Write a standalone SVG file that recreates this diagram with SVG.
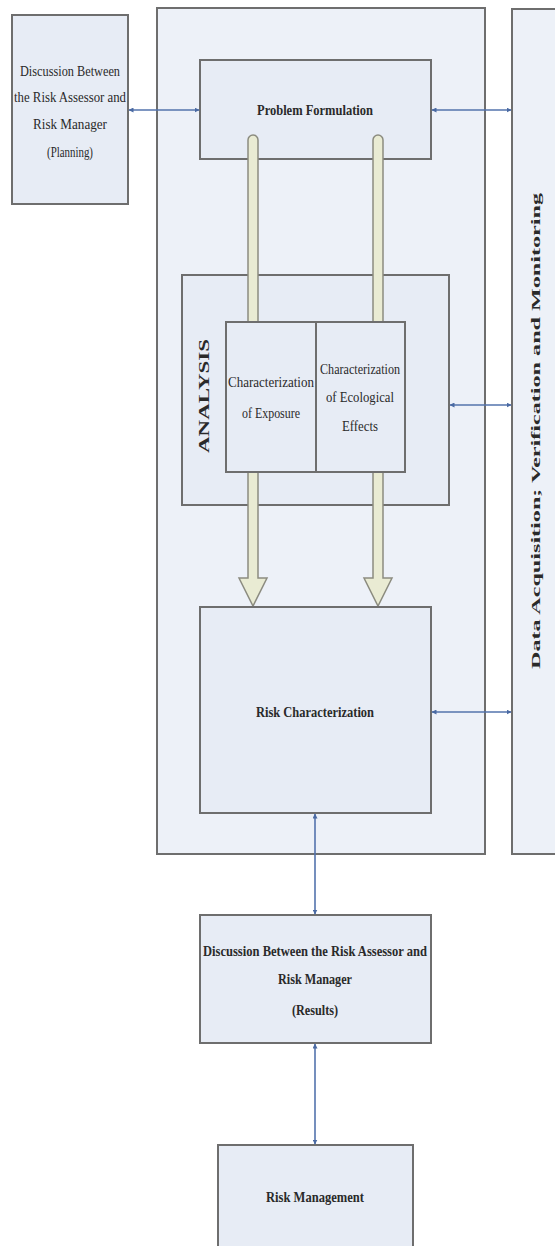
<svg xmlns="http://www.w3.org/2000/svg" width="555" height="1246" viewBox="0 0 555 1246">
<style>
.box{fill:#e7ecf5;stroke:#6e6e6e;stroke-width:2}
.cont{fill:#edf1f8;stroke:#6e6e6e;stroke-width:2}
.t{font-family:"Liberation Serif","Times New Roman",serif;font-size:14px;fill:#2a2a2a;text-anchor:middle}
.b{font-weight:bold}
.conn{stroke:#5373ad;stroke-width:1.6;fill:none;marker-start:url(#ah);marker-end:url(#ah)}
.pipe{fill:#e9ebd3;stroke:#8c8c80;stroke-width:1.5}
</style>
<defs>
<marker id="ah" viewBox="0 0 10 10" refX="9" refY="5" markerWidth="5" markerHeight="5" orient="auto-start-reverse" markerUnits="userSpaceOnUse">
<path d="M0,0 L10,5 L0,10 z" fill="#4a6aa3"/>
</marker>
</defs>
<rect width="555" height="1246" fill="#ffffff"/>

<g id="main-container"><rect class="cont" x="157" y="8" width="328" height="846"/></g>
<g id="data-acquisition">
<rect class="cont" x="512" y="9" width="60" height="845"/>
<text class="t b" style="font-size:12px" transform="translate(540,431) rotate(-90)" textLength="476" lengthAdjust="spacingAndGlyphs">Data Acquisition; Verification and Monitoring</text>
</g>
<g id="discussion-planning">
<rect class="box" x="12" y="15" width="116" height="189"/>
<text class="t" x="70" y="76" textLength="100" lengthAdjust="spacingAndGlyphs">Discussion Between</text>
<text class="t" x="70" y="102" textLength="112" lengthAdjust="spacingAndGlyphs">the Risk Assessor and</text>
<text class="t" x="70" y="129" textLength="74" lengthAdjust="spacingAndGlyphs">Risk Manager</text>
<text class="t" x="70" y="157" textLength="46" lengthAdjust="spacingAndGlyphs">(Planning)</text>
</g>
<g id="problem-formulation">
<rect class="box" x="200" y="60" width="231" height="99"/>
<text class="t b" x="315" y="115" textLength="116" lengthAdjust="spacingAndGlyphs">Problem Formulation</text>
</g>
<g id="analysis">
<rect class="box" x="182" y="275" width="267" height="230"/>
<text class="t b" transform="translate(209,396) rotate(-90)" textLength="114" lengthAdjust="spacingAndGlyphs">ANALYSIS</text>
</g>
<g id="pipes">
<path class="pipe" d="M248,578 V140 a5,5 0 0 1 10,0 V578 h9 l-14,28 l-14,-28 h9 z"/>
<path class="pipe" d="M373,578 V140 a5,5 0 0 1 10,0 V578 h9 l-14,28 l-14,-28 h9 z"/>
</g>
<g id="characterization">
<rect class="box" x="226" y="322" width="179" height="150"/>
<line x1="316" y1="322" x2="316" y2="472" stroke="#6e6e6e" stroke-width="2"/>
<text class="t" x="271" y="387" textLength="86" lengthAdjust="spacingAndGlyphs">Characterization</text>
<text class="t" x="271" y="418" textLength="58" lengthAdjust="spacingAndGlyphs">of Exposure</text>
<text class="t" x="360" y="374" textLength="80" lengthAdjust="spacingAndGlyphs">Characterization</text>
<text class="t" x="360" y="402" textLength="68" lengthAdjust="spacingAndGlyphs">of Ecological</text>
<text class="t" x="360" y="431" textLength="36" lengthAdjust="spacingAndGlyphs">Effects</text>
</g>
<g id="risk-characterization">
<rect class="box" x="200" y="607" width="231" height="206"/>
<text class="t b" x="315" y="717" textLength="118" lengthAdjust="spacingAndGlyphs">Risk Characterization</text>
</g>
<g id="discussion-results">
<rect class="box" x="200" y="915" width="231" height="128"/>
<text class="t b" x="315" y="956" textLength="224" lengthAdjust="spacingAndGlyphs">Discussion Between the Risk Assessor and</text>
<text class="t b" x="315" y="984" textLength="74" lengthAdjust="spacingAndGlyphs">Risk Manager</text>
<text class="t b" x="315" y="1015" textLength="46" lengthAdjust="spacingAndGlyphs">(Results)</text>
</g>
<g id="risk-management">
<rect class="box" x="218" y="1145" width="195" height="110"/>
<text class="t b" x="315" y="1202" textLength="98" lengthAdjust="spacingAndGlyphs">Risk Management</text>
</g>
<g id="connectors">
<line class="conn" x1="129" y1="110" x2="199" y2="110"/>
<line class="conn" x1="432" y1="110" x2="511" y2="110"/>
<line class="conn" x1="450" y1="405" x2="511" y2="405"/>
<line class="conn" x1="432" y1="712" x2="511" y2="712"/>
<line class="conn" x1="315" y1="814" x2="315" y2="914"/>
<line class="conn" x1="315" y1="1044" x2="315" y2="1144"/>
</g>
</svg>
